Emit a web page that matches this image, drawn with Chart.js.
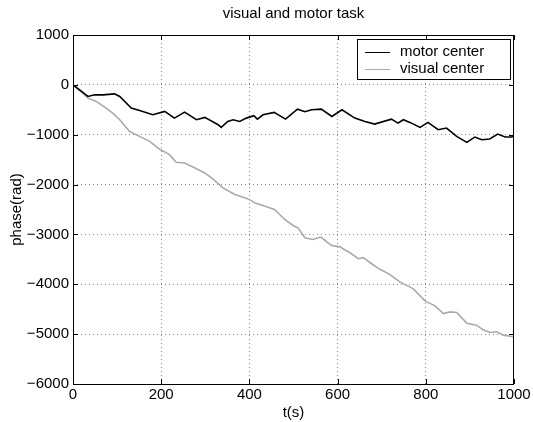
<!DOCTYPE html>
<html>
<head>
<meta charset="utf-8">
<script src="https://cdn.jsdelivr.net/npm/chart.js@4/dist/chart.umd.min.js"></script>
<style>
  html, body { margin: 0; padding: 0; background: #fff; }
  #wrap { width: 533px; height: 422px; }
</style>
</head>
<body>
<div id="wrap"><canvas id="phaseChart" width="533" height="422"></canvas></div>
<script>
// values
var motorT     = [0, 15, 34, 49, 68, 94, 106, 132, 151, 181, 208, 230, 253, 280, 299, 329, 336, 351, 363, 378, 393, 410, 418, 431, 456, 482, 509, 526, 541, 563, 587, 610, 639, 662, 684, 722, 737, 749, 764, 787, 805, 828, 847, 870, 893, 911, 927, 945, 963, 980, 995, 1000];
var motorPhase = [0, -100, -233, -200, -200, -180, -233, -467, -513, -600, -533, -667, -547, -700, -653, -800, -853, -733, -700, -733, -667, -620, -687, -600, -553, -687, -487, -540, -500, -487, -633, -500, -667, -733, -787, -687, -767, -700, -753, -853, -753, -900, -867, -1033, -1153, -1047, -1100, -1087, -987, -1047, -1047, -1000];

var visualT     = [0, 3, 22, 34, 53, 75, 90, 106, 128, 151, 174, 196, 219, 234, 253, 272, 299, 317, 340, 367, 397, 412, 439, 457, 480, 499, 510, 526, 544, 562, 586, 605, 628, 647, 658, 681, 696, 718, 741, 771, 798, 821, 840, 855, 870, 893, 915, 930, 946, 961, 976, 995, 1000];
var visualPhase = [0, -33, -167, -267, -333, -467, -567, -700, -933, -1033, -1133, -1287, -1400, -1553, -1567, -1647, -1767, -1887, -2067, -2200, -2287, -2367, -2447, -2500, -2700, -2820, -2867, -3067, -3100, -3053, -3220, -3247, -3367, -3487, -3467, -3613, -3700, -3800, -3953, -4087, -4333, -4433, -4587, -4553, -4567, -4780, -4820, -4913, -4967, -4953, -5020, -5047, -5050];

var xTicks = [0, 200, 400, 600, 800, 1000];
var yTicks = [1000, 0, -1000, -2000, -3000, -4000, -5000, -6000];

var seriesNames = ["motor center", "visual center"];
var seriesColors = ["#000000", "#aaaaaa"];

var FONT = "'Liberation Sans', Arial, Helvetica, sans-serif";

function toPoints(xs, ys) {
    var pts = [];
    for (var i = 0; i < xs.length; i++) {
        pts.push({ x: xs[i], y: ys[i] });
    }
    return pts;
}

function fmt(v) {
    return String(v).replace("-", "\u2212");
}

// box around the axes, inward ticks on all sides, and the legend
var matlabBox = {
    id: "matlabBox",
    afterDatasetsDraw: function (chart) {
        var ctx = chart.ctx, a = chart.chartArea;
        var xs = chart.scales.x, ys = chart.scales.y;
        ctx.save();
        ctx.strokeStyle = "#000";
        ctx.lineWidth = 1;
        ctx.strokeRect(a.left + 0.5, a.top + 0.5, a.right - a.left - 1, a.bottom - a.top);
        ctx.beginPath();
        xTicks.forEach(function (t) {
            var px = Math.round(xs.getPixelForValue(t)) + 0.5;
            ctx.moveTo(px, a.bottom); ctx.lineTo(px, a.bottom - 5);
            ctx.moveTo(px, a.top); ctx.lineTo(px, a.top + 5);
        });
        yTicks.forEach(function (t) {
            var py = Math.round(ys.getPixelForValue(t)) + 0.5;
            ctx.moveTo(a.left, py); ctx.lineTo(a.left + 5, py);
            ctx.moveTo(a.right, py); ctx.lineTo(a.right - 5, py);
        });
        ctx.stroke();

        // legend
        var w = 153, h = 40;
        var bx = a.right - 4 - w, by = a.top + 4;
        ctx.fillStyle = "#fff";
        ctx.fillRect(bx, by, w, h);
        ctx.strokeRect(bx + 0.5, by + 0.5, w, h);
        ctx.font = "15px " + FONT;
        ctx.textBaseline = "middle";
        ctx.textAlign = "left";
        for (var i = 0; i < seriesNames.length; i++) {
            var ly = by + 13 + i * 17;
            ctx.strokeStyle = seriesColors[i];
            ctx.lineWidth = 1;
            ctx.beginPath();
            ctx.moveTo(bx + 8, ly + 0.5);
            ctx.lineTo(bx + 33, ly + 0.5);
            ctx.stroke();
            ctx.fillStyle = "#000";
            ctx.fillText(seriesNames[i], bx + 43, ly);
        }
        ctx.restore();
    }
};

function gridColor(edges) {
    return function (c) {
        return edges.indexOf(c.tick.value) >= 0 ? "rgba(0,0,0,0)" : "#8c8c8c";
    };
}

new Chart(document.getElementById("phaseChart"), {
    type: "line",
    data: {
        datasets: [{
            label: seriesNames[0],
            data: toPoints(motorT, motorPhase),
            borderColor: seriesColors[0],
            borderWidth: 1.6,
            pointRadius: 0,
            fill: false,
            tension: 0
        }, {
            label: seriesNames[1],
            data: toPoints(visualT, visualPhase),
            borderColor: seriesColors[1],
            borderWidth: 1.6,
            pointRadius: 0,
            fill: false,
            tension: 0
        }]
    },
    plugins: [matlabBox],
    options: {
        responsive: false,
        animation: false,
        devicePixelRatio: 1,
        layout: { padding: { left: 0, right: 19, top: 0, bottom: 0 } },
        plugins: {
            legend: { display: false },
            tooltip: { enabled: false },
            title: {
                display: true,
                text: "visual and motor task",
                fullSize: false,
                color: "#000",
                font: { family: FONT, size: 15, weight: "normal" },
                padding: { top: 5, bottom: 12 }
            }
        },
        scales: {
            x: {
                type: "linear",
                min: 0,
                max: 1000,
                afterFit: function (s) { s.height = 38; },
                afterBuildTicks: function (s) { s.ticks = xTicks.map(function (v) { return { value: v }; }); },
                border: { display: false, dash: [1, 3] },
                grid: { color: gridColor([0, 1000]), lineWidth: 1, drawTicks: false },
                ticks: {
                    padding: 2,
                    maxRotation: 0,
                    color: "#000",
                    font: { family: FONT, size: 15 },
                    callback: function (v) { return fmt(v); }
                },
                title: {
                    display: true,
                    text: "t(s)",
                    color: "#000",
                    font: { family: FONT, size: 15 },
                    padding: { top: 0, bottom: 0 }
                }
            },
            y: {
                type: "linear",
                min: -6000,
                max: 1000,
                afterFit: function (s) { s.width = 73; },
                afterBuildTicks: function (s) { s.ticks = yTicks.map(function (v) { return { value: v }; }); },
                border: { display: false, dash: [1, 3] },
                grid: { color: gridColor([1000, -6000]), lineWidth: 1, drawTicks: false },
                ticks: {
                    padding: 4,
                    color: "#000",
                    font: { family: FONT, size: 15 },
                    callback: function (v) { return fmt(v); }
                },
                title: {
                    display: true,
                    text: "phase(rad)",
                    color: "#000",
                    font: { family: FONT, size: 15 },
                    padding: { top: 8, bottom: 0 }
                }
            }
        }
    }
});
</script>
</body>
</html>
